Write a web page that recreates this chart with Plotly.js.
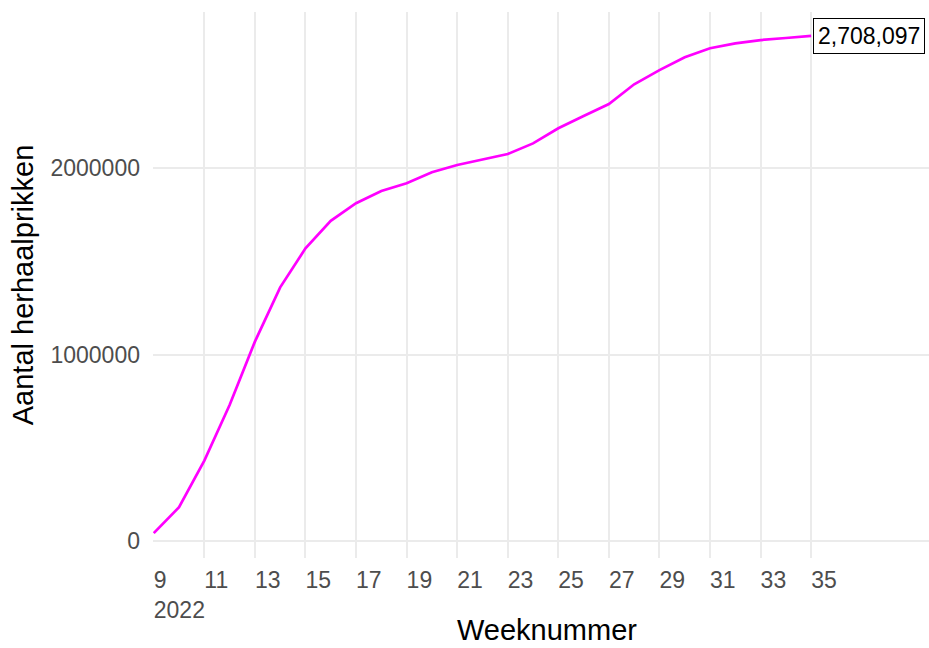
<!DOCTYPE html>
<html>
<head>
<meta charset="utf-8">
<script src="https://cdn.plot.ly/plotly-3.0.1.min.js"></script>
<style>
  html, body { margin: 0; padding: 0; background: #ffffff; }
  #chart { width: 929px; height: 648px; }
</style>
</head>
<body>
<div id="chart"></div>
<script>
// Week numbers (2022)
const weeks = [9, 10, 11, 12, 13, 14, 15, 16, 17, 18, 19, 20, 21, 22, 23, 24, 25, 26, 27, 28, 29, 30, 31, 32, 33, 34, 35];
// Cumulative number of booster shots
const boosters = [42000, 181000, 431000, 729000, 1069000, 1360000, 1569000, 1717000, 1811000, 1877000, 1918000, 1977000, 2016000, 2047000, 2075000, 2132000, 2213000, 2279000, 2343000, 2449000, 2525000, 2594000, 2642000, 2668000, 2686000, 2697000, 2708097];
// Axis ticks
const xTickVals = [9, 11, 13, 15, 17, 19, 21, 23, 25, 27, 29, 31, 33, 35];
const xTickText = ["9<br>2022", "11", "13", "15", "17", "19", "21", "23", "25", "27", "29", "31", "33", "35"];
const yTickVals = [0, 1000000, 2000000];
const yTickText = ["0", "1000000", "2000000"];
const lastLabel = "2,708,097";
const xTitle = "Weeknummer";
const yTitle = "Aantal herhaalprikken";

const FONT = "Liberation Sans, Arial, sans-serif";

const trace = {
  x: weeks,
  y: boosters,
  type: "scatter",
  mode: "lines",
  line: { color: "#FF00FF", width: 2.7 },
  hoverinfo: "skip",
  showlegend: false
};

const layout = {
  width: 929,
  height: 648,
  margin: { l: 153, r: 0, t: 12, b: 90, pad: 0 },
  paper_bgcolor: "#ffffff",
  plot_bgcolor: "#ffffff",
  font: { family: FONT, color: "#000000" },
  showlegend: false,
  xaxis: {
    range: [8.97, 39.66],
    tickmode: "array",
    tickvals: xTickVals,
    ticktext: xTickText,
    ticklabelposition: "outside right",
    ticklabelstandoff: 6,
    ticks: "",
    showgrid: true,
    gridcolor: "#EBEBEB",
    gridwidth: 2,
    zeroline: false,
    showline: false,
    tickfont: { family: FONT, size: 23, color: "#4D4D4D" },
    automargin: false
  },
  yaxis: {
    range: [-91200, 2836500],
    tickmode: "array",
    tickvals: yTickVals,
    ticktext: yTickText,
    ticks: "",
    ticklabelstandoff: 12,
    showgrid: true,
    gridcolor: "#EBEBEB",
    gridwidth: 2,
    zeroline: false,
    showline: false,
    tickfont: { family: FONT, size: 23, color: "#4D4D4D" },
    title: { text: yTitle, font: { family: FONT, size: 29, color: "#000000" }, standoff: 8 },
    automargin: false
  },
  annotations: [{
    x: weeks[weeks.length - 1],
    y: boosters[boosters.length - 1],
    xref: "x",
    yref: "y",
    text: lastLabel,
    showarrow: false,
    xanchor: "left",
    yanchor: "middle",
    xshift: 2,
    font: { family: FONT, size: 23, color: "#000000" },
    bgcolor: "#ffffff",
    bordercolor: "#000000",
    borderwidth: 1,
    borderpad: 4
  }, {
    x: 0.5,
    y: 0,
    xref: "paper",
    yref: "paper",
    text: xTitle,
    showarrow: false,
    xanchor: "center",
    yanchor: "bottom",
    xshift: 6,
    yshift: -89,
    borderpad: 0,
    font: { family: FONT, size: 29, color: "#000000" }
  }]
};

Plotly.newPlot("chart", [trace], layout, { displayModeBar: false, staticPlot: true });
</script>
</body>
</html>
